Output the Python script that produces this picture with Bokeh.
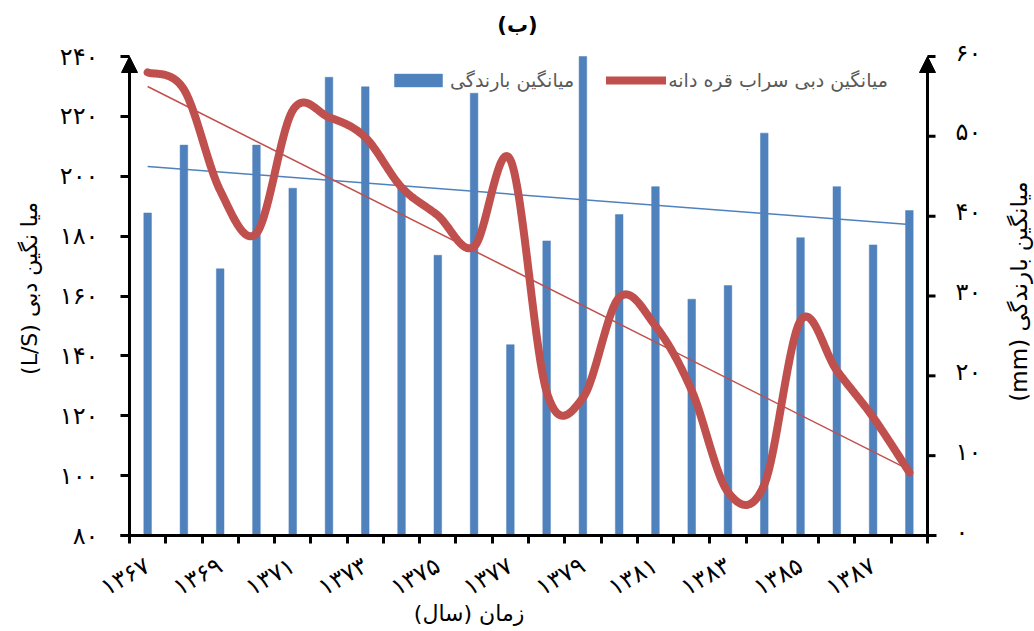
import numpy as np
from bokeh.plotting import figure
from bokeh.models import (Range1d, FixedTicker, Arrow, NormalHead,
                          Legend, LegendItem, Label)
from bokeh.core.properties import value
from bokeh.embed import file_html
from bokeh.resources import INLINE

# ---------------- data ----------------
years = list(range(1367, 1389))
year_labels = ["۱۳۶۷", "۱۳۶۸", "۱۳۶۹", "۱۳۷۰", "۱۳۷۱", "۱۳۷۲", "۱۳۷۳", "۱۳۷۴",
               "۱۳۷۵", "۱۳۷۶", "۱۳۷۷", "۱۳۷۸", "۱۳۷۹", "۱۳۸۰", "۱۳۸۱", "۱۳۸۲",
               "۱۳۸۳", "۱۳۸۴", "۱۳۸۵", "۱۳۸۶", "۱۳۸۷", "۱۳۸۸"]
rain = [40.4, 48.9, 33.4, 48.9, 43.5, 57.4, 56.2, 43.6, 35.1, 55.4, 23.9,
        36.9, 60.0, 40.2, 43.7, 29.6, 31.3, 50.4, 37.3, 43.7, 36.4, 40.7]
discharge = [234.7, 229.0, 195.2, 181.0, 222.0, 219.7, 213.0, 196.3, 186.9,
             176.5, 205.5, 128.0, 126.0, 159.5, 150.0, 128.4, 94.5, 97.0,
             151.8, 135.1, 119.5, 101.1]
left_ticks = [80, 100, 120, 140, 160, 180, 200, 220, 240]
left_tick_labels = ["۸۰", "۱۰۰", "۱۲۰", "۱۴۰", "۱۶۰", "۱۸۰", "۲۰۰", "۲۲۰", "۲۴۰"]
right_ticks = [0, 10, 20, 30, 40, 50, 60]
right_tick_labels = ["۰", "۱۰", "۲۰", "۳۰", "۴۰", "۵۰", "۶۰"]

title_text = "(ب)"
rain_name = "میانگین بارندگی"
flow_name = "میانگین دبی سراب قره دانه"
RLE, PDF, NBSP = "\u202b", "\u202c", "\u00a0"
left_title = RLE + "میا نگین دبی (L/S)" + PDF + NBSP * 5
right_title = RLE + "میانگین بارندگی (mm)" + PDF
x_title = RLE + "زمان (سال)" + PDF + NBSP * 31

BLUE = "#4F81BD"
RED = "#C0504D"
FONT = "DejaVu Sans"

idx = np.arange(len(years), dtype=float)


def excel_smooth(xs, ys, n=40):
    xs = np.asarray(xs, float)
    ys = np.asarray(ys, float)
    px = np.concatenate([[xs[0]], xs, [xs[-1]]])
    py = np.concatenate([[ys[0]], ys, [ys[-1]]])
    t = np.linspace(0, 1, n)
    ox, oy = [], []
    for i in range(len(xs) - 1):
        p0x, p0y = xs[i], ys[i]
        p3x, p3y = xs[i + 1], ys[i + 1]
        c1x = p0x + (px[i + 2] - px[i]) / 6.0
        c1y = p0y + (py[i + 2] - py[i]) / 6.0
        c2x = p3x - (px[i + 3] - px[i + 1]) / 6.0
        c2y = p3y - (py[i + 3] - py[i + 1]) / 6.0
        a = (1 - t) ** 3
        b = 3 * (1 - t) ** 2 * t
        c = 3 * (1 - t) * t ** 2
        d = t ** 3
        ox.extend(a * p0x + b * c1x + c * c2x + d * p3x)
        oy.extend(a * p0y + b * c1y + c * c2y + d * p3y)
    return ox, oy


# ---------------- layout (pixels) ----------------
W, H = 1034, 631
AX_L, AX_R, AX_T, AX_B = 129, 927, 56, 535      # axis box on the page
PAD_X, TOP = 9, 6
FR_L, FR_R = AX_L - PAD_X, W
frame_w, frame_h = FR_R - FR_L, AX_B - TOP

xmin, xmax = -0.5, len(years) - 0.5
ymin, ymax = left_ticks[0], left_ticks[-1]
rmin, rmax = right_ticks[0], right_ticks[-1]
ux = (xmax - xmin) / (AX_R - AX_L)
uy = (ymax - ymin) / (AX_B - AX_T)
ur = (rmax - rmin) / (AX_B - AX_T)

p = figure(width=W, height=H, output_backend="svg", toolbar_location=None,
           x_range=Range1d(xmin - PAD_X * ux, xmin + (FR_R - AX_L) * ux),
           y_range=Range1d(ymin, ymax + (AX_T - TOP) * uy),
           frame_width=frame_w, frame_height=frame_h,
           min_border_left=FR_L, min_border_right=0,
           min_border_top=TOP, min_border_bottom=H - AX_B)
p.extra_y_ranges = {"rain": Range1d(rmin, rmax + (AX_T - TOP) * ur)}
p.grid.visible = False
p.outline_line_color = None
p.background_fill_color = "white"
p.border_fill_color = "white"

# bars
bars = p.vbar(x=idx, top=rain, bottom=0, width=0.21, y_range_name="rain",
              fill_color=BLUE, line_color=BLUE, line_width=0.5)

# trend lines
kb = np.polyfit(idx, rain, 1)
p.line([idx[0], idx[-1]], list(np.polyval(kb, [idx[0], idx[-1]])),
       y_range_name="rain", line_color=BLUE, line_width=1.5)
kr = np.polyfit(idx, discharge, 1)
p.line([idx[0], idx[-1]], list(np.polyval(kr, [idx[0], idx[-1]])),
       line_color=RED, line_width=1.5)

# smoothed discharge line
sx, sy = excel_smooth(idx, discharge)
flow = p.line(sx, sy, line_color=RED, line_width=8, line_cap="round",
              line_join="round")

# x axis
xa = p.xaxis[0]
xa.bounds = (xmin - PAD_X * ux, xmax + PAD_X * ux)
xa.ticker = FixedTicker(ticks=list(range(0, len(years), 2)),
                        minor_ticks=[i - 0.5 for i in range(len(years) + 1)])
xa.major_label_overrides = {i: year_labels[i] for i in range(0, len(years), 2)}
xa.major_tick_line_color = None
xa.major_tick_out = 8
xa.major_tick_in = 0
xa.minor_tick_out = 8
xa.minor_tick_in = 0
xa.minor_tick_line_width = 3
xa.minor_tick_line_color = "black"
xa.major_label_orientation = np.pi / 6
xa.major_label_standoff = 20
xa.axis_line_width = 3
xa.axis_line_color = "black"
xa.major_label_text_font = FONT
xa.major_label_text_font_size = "24px"
xa.major_label_text_color = "black"
xa.axis_label = x_title
xa.axis_label_text_font = FONT
xa.axis_label_text_font_size = "22px"
xa.axis_label_text_font_style = "normal"
xa.axis_label_text_color = "black"
xa.axis_label_standoff = -16

# left axis (Bokeh axis at the frame edge; ticks reach in to the drawn axis line)
ya = p.yaxis[0]
ya.bounds = (ymin, ymax)
ya.ticker = FixedTicker(ticks=left_ticks)
ya.major_label_overrides = {v: s for v, s in zip(left_ticks, left_tick_labels)}
ya.axis_line_color = None
ya.major_tick_out = 0
ya.major_tick_in = PAD_X
ya.major_tick_line_width = 3
ya.minor_tick_line_color = None
ya.major_label_standoff = 22
ya.major_label_text_font = FONT
ya.major_label_text_font_size = "24px"
ya.major_label_text_color = "black"
ya.axis_label = left_title
ya.axis_label_text_font = FONT
ya.axis_label_text_font_size = "22px"
ya.axis_label_text_font_style = "normal"
ya.axis_label_text_color = "black"
ya.axis_label_standoff = 15

# vertical axis lines with arrow heads
p.add_layout(Arrow(end=NormalHead(size=16, fill_color="black", line_color="black"),
                   x_start=xmin, y_start=ymin, x_end=xmin, y_end=ymax,
                   line_color="black", line_width=3))
p.add_layout(Arrow(end=NormalHead(size=16, fill_color="black", line_color="black"),
                   x_start=xmax, y_start=rmin, x_end=xmax, y_end=rmax,
                   y_range_name="rain", line_color="black", line_width=3))

# secondary (right) axis: ticks and labels
n_r = len(right_ticks)
p.segment(x0=[xmax] * n_r, y0=right_ticks, x1=[xmax + 8 * ux] * n_r, y1=right_ticks,
          y_range_name="rain", line_color="black", line_width=3)
p.text(x=[xmax + 28 * ux] * n_r, y=right_ticks, text=right_tick_labels,
       y_range_name="rain", text_font=value(FONT), text_font_size="24px",
       text_color="black", text_align="left", text_baseline="middle",
       y_offset=-4)
p.add_layout(Label(x=1018 - FR_L, y=AX_B - 291, x_units="screen", y_units="screen",
                   text=right_title, angle=np.pi / 2, text_font=FONT,
                   text_font_size="23px", text_color="black",
                   text_align="center", text_baseline="middle"))

# chart title
p.add_layout(Label(x=517 - FR_L, y=AX_B - 24, x_units="screen", y_units="screen",
                   text=title_text, text_font=FONT, text_font_size="21px",
                   text_font_style="bold", text_color="black",
                   text_align="center", text_baseline="middle"))

# legend
legend = Legend(items=[LegendItem(label=rain_name, renderers=[bars]),
                       LegendItem(label=flow_name, renderers=[flow])],
                orientation="horizontal", location=(388 - FR_L, 444),
                padding=0, margin=0, spacing=32, label_standoff=2,
                glyph_width=60, glyph_height=16,
                label_text_font=FONT, label_text_font_size="19px",
                label_text_color="#595959",
                border_line_color=None, background_fill_alpha=0)
p.add_layout(legend, "center")

open("out.html", "w").write(file_html(p, INLINE))
